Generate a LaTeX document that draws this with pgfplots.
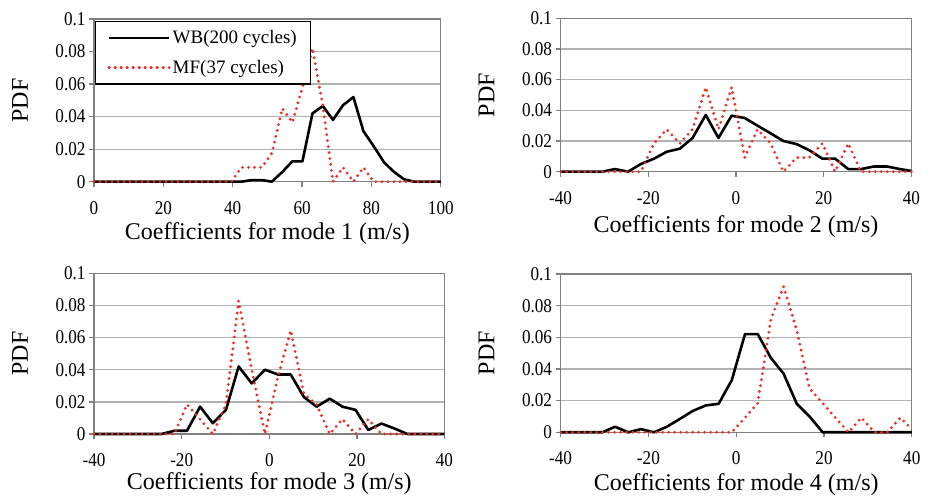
\documentclass[border=0pt]{standalone}
\usepackage{pgfplots}
\pgfplotsset{compat=1.18}
\usepackage{fontspec}
\setmainfont{Liberation Serif}
\newfontfamily\tickfont{Liberation Serif}[FakeStretch=0.88]
\definecolor{mfred}{RGB}{250,40,30}
\definecolor{gridgray}{RGB}{178,178,178}
\definecolor{axgray}{RGB}{128,128,128}
\pgfplotsset{
  pan/.style={
    scale only axis, clip=false,
    ymin=0, ymax=0.1, ytick={0,0.02,0.04,0.06,0.08,0.1},
    yticklabels={0,0.02,0.04,0.06,0.08,0.1},
    ymajorgrids,
    grid style={gridgray, line width=1.3pt},
    axis line style={axgray, line width=1.3pt},
    tick style={axgray, line width=1.3pt},
    tick align=outside, major tick length=5pt,
    xtick pos=bottom, ytick pos=left,
    tick label style={font=\tickfont\fontsize{19.5}{21}\selectfont},
    xticklabel style={yshift=-11pt},
    label style={font=\fontsize{24}{26}\selectfont},
    ylabel=PDF,
    ylabel style={at={(axis description cs:0,0.5)}, yshift=74pt, anchor=center},
    anchor=south west,
  },
  sym/.style={xmin=-40, xmax=40, xtick={-40,-20,0,20,40}, xticklabels={-40,-20,0,20,40}},
  wb/.style={black, line width=2.6pt, line join=round},
  mf/.style={mfred, line width=3.1pt, line cap=round, dash pattern=on 0pt off 6pt},
}
\begin{document}
\begin{tikzpicture}
\path[use as bounding box] (0pt,0pt) rectangle (933pt,497pt);
% Panel 1
\begin{axis}[pan, at={(94pt,315.3pt)}, width=346.8pt, height=162.7pt,
  xmin=0, xmax=100, xtick={0,20,40,60,80,100}, xticklabels={0,20,40,60,80,100},
  xlabel={Coefficients for mode 1 (m/s)},
  xlabel style={at={(axis description cs:0.5,0)}, anchor=base, yshift=-58pt},
  legend style={at={(rel axis cs:0.003,0.988)}, anchor=north west, draw=black, line width=1.2pt,
    font=\fontsize{19}{21}\selectfont, inner xsep=12pt, inner ysep=7pt, row sep=11pt, fill=white},
  legend cell align=left,
  legend image code/.code={\draw[#1] (0pt,0pt) -- (55pt,0pt); \path (0pt,0pt) -- (60pt,0pt);}]
\addplot[wb] coordinates {(0,0) (39.6,0) (42.5,0) (45.5,0.001) (48.4,0.001) (51.3,0) (54.3,0.006) (57.2,0.0125) (60.1,0.0125) (63.0,0.042) (66.0,0.0465) (68.9,0.038) (71.8,0.047) (74.8,0.052) (77.7,0.031) (80.6,0.022) (83.6,0.012) (86.5,0.006) (89.4,0.0015) (92.3,0) (95.3,0) (98.2,0) (100,0)};
\addlegendentry{WB(200 cycles)}
\addplot[mf] coordinates {(0,0) (39.6,0) (42.5,0.0088) (45.5,0.0088) (48.4,0.0088) (51.3,0.0175) (54.3,0.045) (57.2,0.0365) (60.1,0.058) (63.0,0.082) (66.0,0.0465) (68.9,0) (71.8,0.0088) (74.8,0) (77.7,0.0088) (80.6,0) (100,0)};
\addlegendentry{MF(37 cycles)}
\end{axis}
% Panel 2
\begin{axis}[pan, sym, at={(560.6pt,325.3pt)}, width=350.8pt, height=153.4pt,
  xlabel={Coefficients for mode 2 (m/s)},
  xlabel style={at={(axis description cs:0.5,0)}, anchor=base, yshift=-61pt}]
\addplot[wb] coordinates {(-40,0) (-30.5,0) (-27.6,0.0017) (-24.6,0) (-21.7,0.005) (-18.7,0.0085) (-15.8,0.013) (-12.8,0.015) (-9.9,0.022) (-6.9,0.037) (-4.0,0.022) (-1.0,0.0365) (2.0,0.035) (4.9,0.030) (7.9,0.025) (10.8,0.020) (13.8,0.018) (16.7,0.014) (19.7,0.0085) (22.6,0.0085) (25.6,0.0017) (28.5,0.0017) (31.5,0.0034) (34.4,0.0034) (37.4,0.0017) (40,0.0005)};
\addplot[mf] coordinates {(-40,0) (-24.6,0) (-21.7,0) (-18.7,0.0184) (-15.8,0.0276) (-12.8,0.0184) (-9.9,0.0276) (-6.9,0.055) (-4.0,0.0276) (-1.0,0.055) (2.0,0.0092) (4.9,0.0276) (7.9,0.0184) (10.8,0) (13.8,0.0092) (16.7,0.0092) (19.7,0.0184) (22.6,0) (25.6,0.0184) (28.5,0) (40,0)};
\end{axis}
% Panel 3
\begin{axis}[pan, sym, at={(94.1pt,63pt)}, width=350.4pt, height=160.7pt,
  xlabel={Coefficients for mode 3 (m/s)},
  xlabel style={at={(axis description cs:0.5,0)}, anchor=base, yshift=-56pt}]
\addplot[wb] coordinates {(-40,0) (-24.6,0) (-21.7,0.002) (-18.8,0.002) (-15.8,0.017) (-12.9,0.0067) (-9.9,0.015) (-7.0,0.042) (-4.0,0.0315) (-1.0,0.040) (2.0,0.037) (4.9,0.037) (7.9,0.023) (10.8,0.017) (13.8,0.022) (16.7,0.017) (19.7,0.015) (22.6,0.0025) (25.6,0.0065) (28.5,0.0035) (31.5,0) (40,0)};
\addplot[mf] coordinates {(-40,0) (-21.7,0) (-18.8,0.0184) (-15.8,0.0092) (-12.9,0) (-9.9,0.0184) (-7.0,0.0828) (-4.0,0.040) (-1.0,0) (2.0,0.036) (4.9,0.0644) (7.9,0.025) (10.8,0.0184) (13.8,0) (16.7,0.0092) (19.7,0) (22.6,0.0092) (25.6,0) (40,0)};
\end{axis}
% Panel 4
\begin{axis}[pan, sym, at={(560.6pt,64.7pt)}, width=351.2pt, height=158.3pt,
  xlabel={Coefficients for mode 4 (m/s)},
  xlabel style={at={(axis description cs:0.5,0)}, anchor=base, yshift=-58pt}]
\addplot[wb] coordinates {(-40,0) (-30.5,0) (-27.6,0.0035) (-24.6,0) (-21.7,0.002) (-18.7,0) (-15.8,0.0035) (-12.8,0.0085) (-9.9,0.0135) (-6.9,0.017) (-4.0,0.018) (-1.0,0.033) (2.0,0.062) (4.9,0.062) (7.9,0.047) (10.8,0.037) (13.8,0.018) (16.7,0.010) (19.7,0) (40,0)};
\addplot[mf] coordinates {(-40,0) (-1.0,0) (2.0,0.0092) (4.9,0.0184) (7.9,0.0715) (10.8,0.092) (13.8,0.0644) (16.7,0.0276) (19.7,0.0184) (22.6,0.0092) (25.6,0) (28.5,0.0092) (31.5,0) (34.4,0) (37.4,0.0092) (40,0.002)};
\end{axis}
\end{tikzpicture}
\end{document}
